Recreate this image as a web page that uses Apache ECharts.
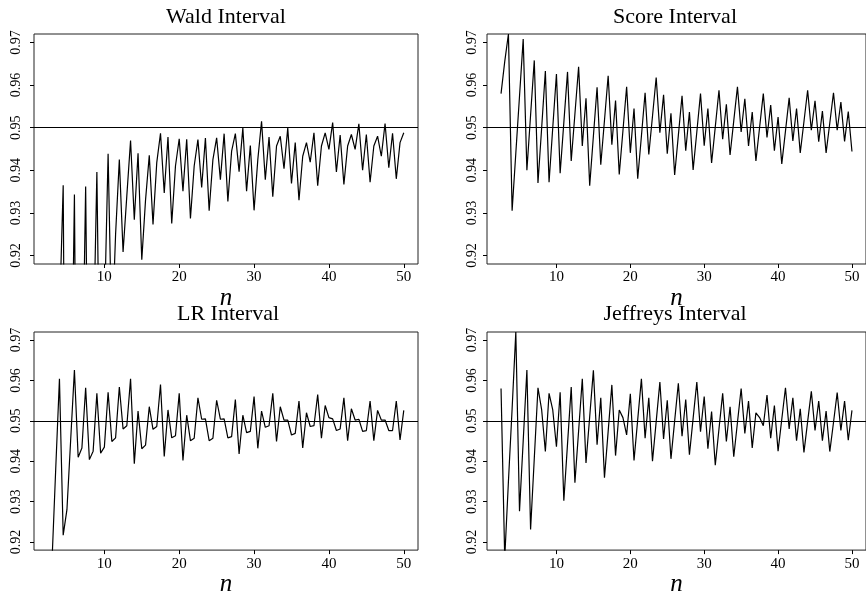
<!DOCTYPE html>
<html>
<head>
<meta charset="utf-8">
<script src="https://cdn.jsdelivr.net/npm/echarts@6/dist/echarts.min.js"></script>
<style>
  html, body { margin: 0; padding: 0; background: #fff; }
  #chart { width: 866px; height: 598px; }
</style>
</head>
<body>
<div id="chart"></div>
<script>
// Sample sizes on the horizontal axis
const sampleSizes = [
  2.5, 3, 3.5, 4, 4.5, 5, 5.5, 6, 6.5, 7, 7.5, 8, 8.5, 9, 9.5, 10,
  10.5, 11, 11.5, 12, 12.5, 13, 13.5, 14, 14.5, 15, 15.5, 16, 16.5, 17, 17.5, 18,
  18.5, 19, 19.5, 20, 20.5, 21, 21.5, 22, 22.5, 23, 23.5, 24, 24.5, 25, 25.5, 26,
  26.5, 27, 27.5, 28, 28.5, 29, 29.5, 30, 30.5, 31, 31.5, 32, 32.5, 33, 33.5, 34,
  34.5, 35, 35.5, 36, 36.5, 37, 37.5, 38, 38.5, 39, 39.5, 40, 40.5, 41, 41.5, 42,
  42.5, 43, 43.5, 44, 44.5, 45, 45.5, 46, 46.5, 47, 47.5, 48, 48.5, 49, 49.5, 50
];

// Coverage probability of each interval, one value per sample size
const waldCoverage = [
  0.85, 0.87, 0.86, 0.905, 0.9365, 0.80, 0.87, 0.9343, 0.82, 0.88, 0.9362, 0.85, 0.895, 0.9396, 0.87, 0.905,
  0.9439, 0.90, 0.925, 0.9425, 0.9208, 0.934, 0.947, 0.9284, 0.944, 0.919, 0.933, 0.9435, 0.9273, 0.9418, 0.9487, 0.9347,
  0.9478, 0.9275, 0.941, 0.9474, 0.9351, 0.9473, 0.9287, 0.941, 0.9472, 0.936, 0.9476, 0.9305, 0.9425, 0.9476, 0.9378, 0.9486,
  0.9327, 0.9445, 0.9486, 0.9397, 0.9499, 0.9351, 0.9458, 0.9306, 0.9425, 0.9515, 0.9378, 0.9478, 0.9338, 0.9457, 0.948, 0.9404,
  0.9499, 0.9369, 0.9465, 0.933, 0.9433, 0.9465, 0.9419, 0.9488, 0.9364, 0.9457, 0.9488, 0.9449, 0.9512, 0.9396, 0.9483, 0.9367,
  0.9457, 0.9484, 0.9449, 0.9509, 0.94, 0.9484, 0.9372, 0.9457, 0.948, 0.9433, 0.951, 0.9406, 0.9487, 0.938, 0.9465, 0.9488
];

const scoreCoverage = [
  0.958, 0.9655, 0.972, 0.9305, 0.944, 0.9574, 0.9708, 0.940, 0.953, 0.9658, 0.937, 0.950, 0.9633, 0.9372, 0.950, 0.9626,
  0.9393, 0.9512, 0.9631, 0.9422, 0.9532, 0.9643, 0.9457, 0.9569, 0.9364, 0.948, 0.9595, 0.9413, 0.9517, 0.9622, 0.946, 0.9564,
  0.939, 0.9493, 0.9596, 0.9441, 0.9545, 0.938, 0.948, 0.9582, 0.9437, 0.9527, 0.9618, 0.9488, 0.9577, 0.9439, 0.9534, 0.9389,
  0.9482, 0.9575, 0.9446, 0.9537, 0.9401, 0.949, 0.958, 0.9458, 0.9545, 0.9417, 0.9502, 0.9588, 0.9473, 0.9555, 0.9436, 0.9516,
  0.9596, 0.949, 0.9568, 0.9457, 0.9537, 0.9422, 0.9501, 0.958, 0.9477, 0.9553, 0.9446, 0.9525, 0.9415, 0.9492, 0.957, 0.9469,
  0.9545, 0.9441, 0.9514, 0.9588, 0.9494, 0.9563, 0.9467, 0.9539, 0.9441, 0.9511, 0.9582, 0.9494, 0.956, 0.9468, 0.9538, 0.9444
];

const lrCoverage = [
  0.88, 0.915, 0.938, 0.9604, 0.9217, 0.928, 0.9453, 0.9626, 0.941, 0.9433, 0.9582, 0.9404, 0.9425, 0.9568, 0.942, 0.9435,
  0.9571, 0.9449, 0.9458, 0.9584, 0.948, 0.9488, 0.9604, 0.9394, 0.9524, 0.9431, 0.944, 0.9535, 0.9479, 0.9486, 0.959, 0.9412,
  0.9527, 0.9458, 0.9463, 0.9568, 0.9402, 0.9514, 0.9451, 0.9457, 0.9557, 0.9504, 0.9505, 0.9451, 0.9457, 0.9551, 0.9504, 0.9505,
  0.9458, 0.9461, 0.9553, 0.9418, 0.9514, 0.9471, 0.9474, 0.956, 0.9432, 0.9524, 0.9484, 0.9488, 0.9568, 0.9449, 0.9535, 0.9502,
  0.9502, 0.9465, 0.9469, 0.9549, 0.9433, 0.952, 0.9486, 0.9488, 0.9565, 0.9457, 0.9538, 0.9508, 0.9505, 0.9476, 0.948, 0.9557,
  0.9451, 0.953, 0.9502, 0.9504, 0.9474, 0.9476, 0.9549, 0.9451, 0.9526, 0.9502, 0.9502, 0.9476, 0.9476, 0.9549, 0.9453, 0.9526
];

const jeffreysCoverage = [
  0.958, 0.916, 0.935, 0.953, 0.972, 0.9276, 0.945, 0.9626, 0.9231, 0.9407, 0.9582, 0.9527, 0.9424, 0.9568, 0.9527, 0.9436,
  0.9571, 0.9302, 0.9443, 0.9584, 0.9347, 0.9475, 0.9604, 0.9396, 0.951, 0.9625, 0.9441, 0.9557, 0.9359, 0.9474, 0.9589, 0.9414,
  0.9527, 0.9508, 0.9465, 0.9567, 0.9402, 0.9503, 0.9604, 0.9457, 0.9557, 0.94, 0.9498, 0.9596, 0.9455, 0.9551, 0.9406, 0.950,
  0.9593, 0.9462, 0.9553, 0.9416, 0.9506, 0.9596, 0.9473, 0.956, 0.9431, 0.9523, 0.939, 0.948, 0.9568, 0.9449, 0.9535, 0.9411,
  0.9496, 0.958, 0.9469, 0.9549, 0.9433, 0.952, 0.9508, 0.9488, 0.9564, 0.9457, 0.9538, 0.9425, 0.9504, 0.9582, 0.948, 0.9557,
  0.9451, 0.953, 0.9422, 0.9498, 0.9573, 0.9476, 0.9549, 0.9451, 0.9524, 0.9424, 0.9496, 0.957, 0.9476, 0.9549, 0.9452, 0.9526
];

const panelTitles = ['Wald Interval', 'Score Interval', 'LR Interval', 'Jeffreys Interval'];
const xTickValues = [10, 20, 30, 40, 50];
const yTickValues = [0.92, 0.93, 0.94, 0.95, 0.96, 0.97];
const nominalLevel = 0.95;

const seriesValues = [waldCoverage, scoreCoverage, lrCoverage, jeffreysCoverage];

// Panel frames (pixels), title centres and y-label offsets
const frames = [
  { left: 34,  top: 34,  width: 384, height: 230, titleX: 226, titleY: 17,  yLabelMargin: 11 },
  { left: 487, top: 34,  width: 383, height: 230, titleX: 675, titleY: 17,  yLabelMargin: 8 },
  { left: 34,  top: 332, width: 384, height: 230, titleX: 228, titleY: 314, yLabelMargin: 11 },
  { left: 487, top: 332, width: 383, height: 230, titleX: 675, titleY: 314, yLabelMargin: 8 }
];

const SERIF = '"Liberation Serif", "DejaVu Serif", serif';

const option = {
  animation: false,
  backgroundColor: '#fff',
  grid: frames.map(f => ({
    left: f.left, top: f.top, width: f.width, height: f.height,
    show: true, borderColor: '#222', borderWidth: 1, backgroundColor: 'transparent',
    containLabel: false
  })),
  xAxis: frames.map((f, i) => ({
    type: 'value', gridIndex: i, min: 0.6, max: 51.9,
    axisLine: { show: false },
    splitLine: { show: false },
    axisTick: { show: true, length: 4, customValues: xTickValues, lineStyle: { color: '#000' } },
    axisLabel: {
      customValues: xTickValues, margin: 6, color: '#000',
      fontFamily: SERIF, fontSize: 15
    },
    name: 'n', nameLocation: 'middle', nameGap: 16,
    nameTextStyle: { fontFamily: SERIF, fontStyle: 'italic', fontSize: 25, color: '#000' }
  })),
  yAxis: frames.map((f, i) => ({
    type: 'value', gridIndex: i, min: 0.918, max: 0.972,
    axisLine: { show: false },
    splitLine: { show: false },
    axisTick: { show: true, length: 4, customValues: yTickValues, lineStyle: { color: '#000' } },
    axisLabel: {
      customValues: yTickValues, rotate: 90, margin: f.yLabelMargin, color: '#000',
      fontFamily: SERIF, fontSize: 14,
      formatter: v => v.toFixed(2)
    }
  })),
  graphic: frames.map((f, i) => ({
    type: 'text', x: f.titleX, y: f.titleY, silent: true,
    style: {
      text: panelTitles[i], fill: '#000',
      font: '22px ' + SERIF,
      align: 'center', verticalAlign: 'middle'
    }
  })),
  series: seriesValues.map((vals, i) => ({
    type: 'line', xAxisIndex: i, yAxisIndex: i,
    data: sampleSizes.map((n, k) => [n, vals[k]]),
    showSymbol: false, symbol: 'none', clip: true,
    lineStyle: { color: '#000', width: 1.2 },
    markLine: {
      silent: true, symbol: 'none', label: { show: false },
      lineStyle: { color: '#000', width: 1, type: 'solid' },
      data: [{ yAxis: nominalLevel }]
    }
  }))
};

const chart = echarts.init(document.getElementById('chart'), null, { renderer: 'canvas' });
chart.setOption(option);
</script>
</body>
</html>
